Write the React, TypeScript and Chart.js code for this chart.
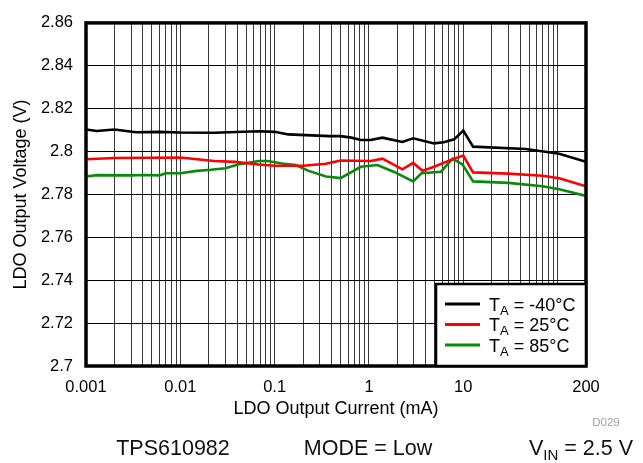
import React, { useEffect, useRef } from 'react';
import { Chart, registerables } from 'chart.js';

Chart.register(...registerables);

const FONT = '"Liberation Sans", Arial, Helvetica, sans-serif';

// LDO output current (mA) and voltage (V) per temperature
const currentM40 = [0.001, 0.0013, 0.002, 0.0034, 0.006, 0.01, 0.023, 0.068, 0.1, 0.14, 0.38, 0.5, 0.65, 0.82, 1.04, 1.39, 2.26, 2.94, 4.9, 6.2, 8.0, 10, 12.7, 46, 104, 200];
const voltM40 = [2.8103, 2.8096, 2.8103, 2.809, 2.8092, 2.8089, 2.8088, 2.8095, 2.8092, 2.808, 2.8072, 2.8072, 2.8065, 2.8054, 2.8054, 2.8065, 2.8045, 2.8062, 2.8038, 2.8043, 2.8057, 2.8098, 2.8023, 2.8012, 2.799, 2.7952];

const current25 = [0.001, 0.002, 0.01, 0.015, 0.023, 0.038, 0.068, 0.1, 0.2, 0.35, 0.5, 1.04, 1.39, 2.26, 2.94, 3.7, 4.9, 8.0, 10, 12.7, 30, 69, 104, 200];
const volt25 = [2.7964, 2.797, 2.7972, 2.7964, 2.7956, 2.7952, 2.794, 2.7934, 2.7934, 2.7943, 2.7958, 2.7956, 2.7967, 2.7917, 2.7947, 2.791, 2.7929, 2.7967, 2.7981, 2.7903, 2.7897, 2.7887, 2.7876, 2.7838];

const current85 = [0.001, 0.0013, 0.003, 0.0041, 0.006, 0.007, 0.01, 0.015, 0.021, 0.03, 0.042, 0.068, 0.084, 0.12, 0.167, 0.23, 0.35, 0.5, 0.82, 1.23, 1.85, 2.94, 3.6, 5.8, 7.7, 9.8, 12.7, 30, 69, 104, 200];
const volt85 = [2.7884, 2.789, 2.7889, 2.7891, 2.7889, 2.7899, 2.7899, 2.791, 2.7915, 2.7922, 2.7941, 2.7956, 2.7956, 2.7944, 2.7937, 2.791, 2.7884, 2.7876, 2.7929, 2.7937, 2.7905, 2.7861, 2.7899, 2.7906, 2.7967, 2.794, 2.7861, 2.7854, 2.7838, 2.7824, 2.7793];

const seriesLabels = ['-40°C', '25°C', '85°C'];
const seriesColors = ['#000000', '#ff0000', '#0a8a0a'];

const xDecades = [0.001, 0.01, 0.1, 1, 10, 100];
const xMultipliers = [1, 2, 3, 4, 5, 6, 7, 8, 9];
const xMax = 200;
const xMin = 0.001;
const xTickLabels = [0.001, 0.01, 0.1, 1, 10, 200];
const yTickValues = [2.7, 2.72, 2.74, 2.76, 2.78, 2.8, 2.82, 2.84, 2.86];

const xTitle = 'LDO Output Current (mA)';
const yTitle = 'LDO Output Voltage (V)';
const footerLeft = 'TPS610982';
const footerMid = 'MODE = Low';
const footerRight = ['V', 'IN', ' = 2.5 V'];
const figureId = 'D029';

const xGridValues: number[] = [];
xDecades.forEach((d) => {
  xMultipliers.forEach((m) => {
    const v = Number((d * m).toPrecision(6));
    if (v <= xMax) xGridValues.push(v);
  });
});
if (!xGridValues.includes(xMax)) xGridValues.push(xMax);

const decorPlugin = {
  id: 'decor',
  afterDraw(chart: any) {
    const { ctx, chartArea } = chart;
    const { left, right, top, bottom } = chartArea;
    ctx.save();
    // plot frame
    ctx.strokeStyle = '#000';
    ctx.lineWidth = 3.5;
    ctx.strokeRect(left, top, right - left, bottom - top);

    // legend box
    const bw = 150;
    const bh = 82;
    const bx = right - bw;
    const by = bottom - bh;
    ctx.fillStyle = '#fff';
    ctx.fillRect(bx, by, bw, bh);
    ctx.lineWidth = 2.5;
    ctx.strokeStyle = '#000';
    ctx.strokeRect(bx, by, bw, bh);
    chart.data.datasets.forEach((ds: any, i: number) => {
      const y = by + 20 + i * 20.5;
      ctx.strokeStyle = ds.borderColor;
      ctx.lineWidth = 3;
      ctx.beginPath();
      ctx.moveTo(bx + 9, y);
      ctx.lineTo(bx + 44, y);
      ctx.stroke();
      ctx.fillStyle = '#000';
      ctx.textBaseline = 'alphabetic';
      ctx.textAlign = 'left';
      const base = y + 6.5;
      let tx = bx + 53;
      ctx.font = `18px ${FONT}`;
      ctx.fillText('T', tx, base);
      tx += ctx.measureText('T').width;
      ctx.font = `13px ${FONT}`;
      ctx.fillText('A', tx, base + 4);
      tx += ctx.measureText('A').width;
      ctx.font = `18px ${FONT}`;
      ctx.fillText(' = ' + seriesLabels[i], tx, base);
    });

    // footer texts
    ctx.fillStyle = '#111';
    ctx.textBaseline = 'alphabetic';
    ctx.font = `21.5px ${FONT}`;
    ctx.textAlign = 'center';
    const fy = 455;
    ctx.fillText(footerLeft, 173, fy);
    ctx.fillText(footerMid, 368, fy);
    ctx.textAlign = 'left';
    let vx = 529;
    ctx.fillText(footerRight[0], vx, fy);
    vx += ctx.measureText(footerRight[0]).width;
    ctx.font = `15px ${FONT}`;
    ctx.fillText(footerRight[1], vx, fy + 5);
    vx += ctx.measureText(footerRight[1]).width;
    ctx.font = `21.5px ${FONT}`;
    ctx.fillText(footerRight[2], vx, fy);

    ctx.fillStyle = '#a0a0a0';
    ctx.font = `11.5px ${FONT}`;
    ctx.textAlign = 'center';
    ctx.textBaseline = 'middle';
    ctx.fillText(figureId, 606, 423);
    ctx.restore();
  },
};

export default function App() {
  const canvasRef = useRef<HTMLCanvasElement | null>(null);

  useEffect(() => {
    const canvas = canvasRef.current;
    if (!canvas) return;
    const mk = (xs: number[], ys: number[]) => xs.map((x, i) => ({ x, y: ys[i] }));
    const chart = new Chart(canvas, {
      type: 'line',
      data: {
        datasets: [
          { label: seriesLabels[0], data: mk(currentM40, voltM40), borderColor: seriesColors[0], backgroundColor: seriesColors[0] },
          { label: seriesLabels[1], data: mk(current25, volt25), borderColor: seriesColors[1], backgroundColor: seriesColors[1] },
          { label: seriesLabels[2], data: mk(current85, volt85), borderColor: seriesColors[2], backgroundColor: seriesColors[2] },
        ].map((d) => ({ ...d, borderWidth: 2.6, pointRadius: 0, tension: 0, fill: false })),
      },
      options: {
        responsive: false,
        animation: false,
        devicePixelRatio: 1,
        layout: { padding: { left: 0, right: 57, top: 14, bottom: 0 } },
        plugins: { legend: { display: false }, tooltip: { enabled: false } },
        scales: {
          x: {
            type: 'logarithmic',
            min: xMin,
            max: xMax,
            afterBuildTicks: (scale: any) => {
              scale.ticks = xGridValues.map((v) => ({ value: v }));
            },
            afterFit: (scale: any) => {
              scale.height = 97;
            },
            grid: { color: '#3a3a3a', lineWidth: 1, drawTicks: false },
            border: { display: false },
            ticks: {
              autoSkip: false,
              maxRotation: 0,
              minRotation: 0,
              padding: 12,
              color: '#000',
              font: { family: FONT, size: 16.5 },
              callback: (value: any) => (xTickLabels.includes(Number(value)) ? String(Number(value)) : ''),
            },
            title: {
              display: true,
              text: xTitle,
              color: '#000',
              font: { family: FONT, size: 18 },
              padding: { top: 0, bottom: 43 },
            },
          },
          y: {
            type: 'linear',
            min: yTickValues[0],
            max: yTickValues[yTickValues.length - 1],
            afterBuildTicks: (scale: any) => {
              scale.ticks = yTickValues.map((v) => ({ value: v }));
            },
            afterFit: (scale: any) => {
              scale.width = 86;
            },
            grid: { color: '#000', lineWidth: 1, drawTicks: false },
            border: { display: false },
            ticks: {
              padding: 13,
              color: '#000',
              font: { family: FONT, size: 16.5 },
              callback: (value: any) => String(Number(Number(value).toFixed(2))),
            },
            title: {
              display: true,
              text: yTitle,
              color: '#000',
              font: { family: FONT, size: 18 },
              padding: { top: 10, bottom: 0 },
            },
          },
        },
      },
      plugins: [decorPlugin],
    } as any);
    return () => chart.destroy();
  }, []);

  return (
    <div style={{ position: 'absolute', left: 0, top: 0, width: 643, height: 463, background: '#fff' }}>
      <canvas ref={canvasRef} width={643} height={463} style={{ display: 'block', width: 643, height: 463 }} />
    </div>
  );
}
